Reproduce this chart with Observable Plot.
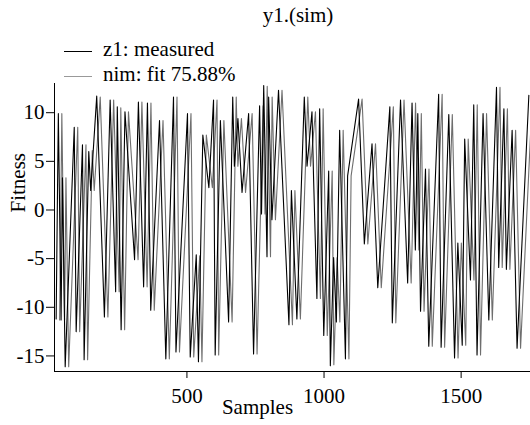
<!DOCTYPE html>
<html><head><meta charset="utf-8">
<script src="https://cdn.jsdelivr.net/npm/d3@7"></script>
<script src="https://cdn.jsdelivr.net/npm/@observablehq/plot@0.6"></script>
<style>
body{margin:0;background:#fff;font-family:"Liberation Serif",serif;color:#000;}
#wrap{position:relative;width:530px;height:425px;overflow:hidden;}
#title{height:30px;line-height:30px;font-size:21px;text-align:center;padding-left:66px;box-sizing:border-box;width:530px;}
.sw{position:absolute;left:64px;width:28px;height:1px;}
.lt{position:absolute;left:103px;font-size:21px;line-height:25px;white-space:nowrap;}
</style></head>
<body><div id="wrap"><div id="title">y1.(sim)</div><div id="chart"></div>
<div class="sw" style="top:51px;background:#000"></div>
<div class="lt" style="top:37px">z1: measured</div>
<div class="sw" style="top:76px;background:#999"></div>
<div class="lt" style="top:62px">nim: fit 75.88%</div>
</div>
<script>
const samples = [23,31,41,46,56,89,96,119,125,142,149,171,199,220,240,246,260,274,309,323,342,356,368,400,423,451,460,502,512,534,542,558,580,597,603,622,652,667,673,686,701,725,743,765,772,780,792,798,810,834,872,881,901,928,938,956,962,974,984,999,1017,1023,1035,1045,1057,1078,1086,1126,1147,1175,1196,1240,1249,1279,1305,1321,1333,1342,1352,1370,1382,1418,1427,1455,1476,1488,1504,1513,1534,1546,1558,1580,1601,1629,1637,1656,1665,1686,1704,1747];
const measured = [-11.2,9.9,-11.3,3.3,-16.1,8.5,-12.5,6.7,-15.4,6.0,2.0,11.7,-11.0,11.3,-8.4,10.6,-12.3,10.1,-5.1,11.1,-7.9,11.0,-10.3,9.2,-15.3,11.6,-14.6,9.9,-15.1,-4.6,-15.6,7.7,2.3,11.3,-14.9,9.2,-11.5,11.6,4.5,9.4,1.8,9.9,-14.8,10.7,-0.4,12.8,-4.8,11.6,-1.0,12.3,-11.8,2.0,-11.2,11.6,4.5,10.1,3.1,-9.1,10.4,-12.9,4.0,-16.0,-4.9,-11.5,8.2,-15.3,3.5,11.4,-3.5,6.8,-8.0,10.6,-11.6,11.3,-7.5,11.0,-4.1,9.9,-10.4,4.2,-14.0,11.9,-14.1,9.8,-15.2,-3.4,-13.9,7.3,-7.2,10.8,-14.9,9.9,-11.3,12.6,-5.9,10.4,-6.1,8.2,-14.2,11.8];
const sim = [-11.3,9.9,-11.3,3.3,-16.1,8.5,-12.5,6.7,-15.4,6.1,2.0,11.6,-11.0,11.3,-8.4,10.5,-12.3,10.1,-5.1,11.1,-7.9,11.0,-10.3,9.2,-15.3,11.6,-14.6,9.9,-15.1,-4.7,-15.6,7.7,2.3,11.3,-14.9,9.2,-11.5,11.6,4.5,9.4,1.8,9.9,-14.8,10.7,-0.4,12.7,-4.8,11.6,-1.0,12.3,-11.8,2.0,-11.2,11.6,4.5,10.1,3.1,-9.1,10.4,-12.9,4.0,-15.9,-4.9,-11.5,8.2,-15.3,3.5,11.4,-3.5,6.8,-8.0,10.6,-11.6,11.3,-7.5,11.0,-4.1,9.9,-10.4,4.2,-14.0,11.9,-14.1,9.8,-15.2,-3.4,-13.9,7.3,-7.2,10.8,-14.9,9.9,-11.3,12.6,-5.9,10.4,-6.1,8.2,-14.2,11.8];
const xTicks = [500,1000,1500];
const yTicks = [-15,-10,-5,0,5,10];
const xDomain = [17,1753];
const yDomain = [-16.6,13];

const data = samples.map((s,i)=>({sample:s, measured:measured[i], sim:sim[i]}));
const plot = Plot.plot({
  width:530, height:395, marginTop:53, marginBottom:54, marginLeft:54, marginRight:0,
  style:{fontFamily:"Liberation Serif", fontSize:"21px", color:"#000", background:"#fff", overflow:"visible"},
  x:{domain:xDomain}, y:{domain:yDomain},
  marks:[
    Plot.line(data,{x:"sample",y:"sim",stroke:"#6e6e6e",strokeWidth:1.1,dx:3.5,clip:true}),
    Plot.line(data,{x:"sample",y:"measured",stroke:"#000",strokeWidth:1.1,clip:true}),
    Plot.ruleX([xDomain[0]],{stroke:"#000"}),
    Plot.ruleY([yDomain[0]],{stroke:"#000"}),
    Plot.axisX({ticks:xTicks,tickSize:7,tickPadding:10,label:null,tickFormat:d=>String(d)}),
    Plot.axisY({ticks:yTicks,tickSize:8,tickPadding:2,label:null,tickFormat:d=>String(d)}),
    Plot.text(["Fitness"],{text:d=>d,frameAnchor:"left",dx:-36,dy:-15,rotate:-90,fontSize:21}),
    Plot.text(["Samples"],{text:d=>d,frameAnchor:"bottom",dx:-35,dy:42,fontSize:21})
  ]
});
document.getElementById("chart").appendChild(plot);
</script>
</body></html>
